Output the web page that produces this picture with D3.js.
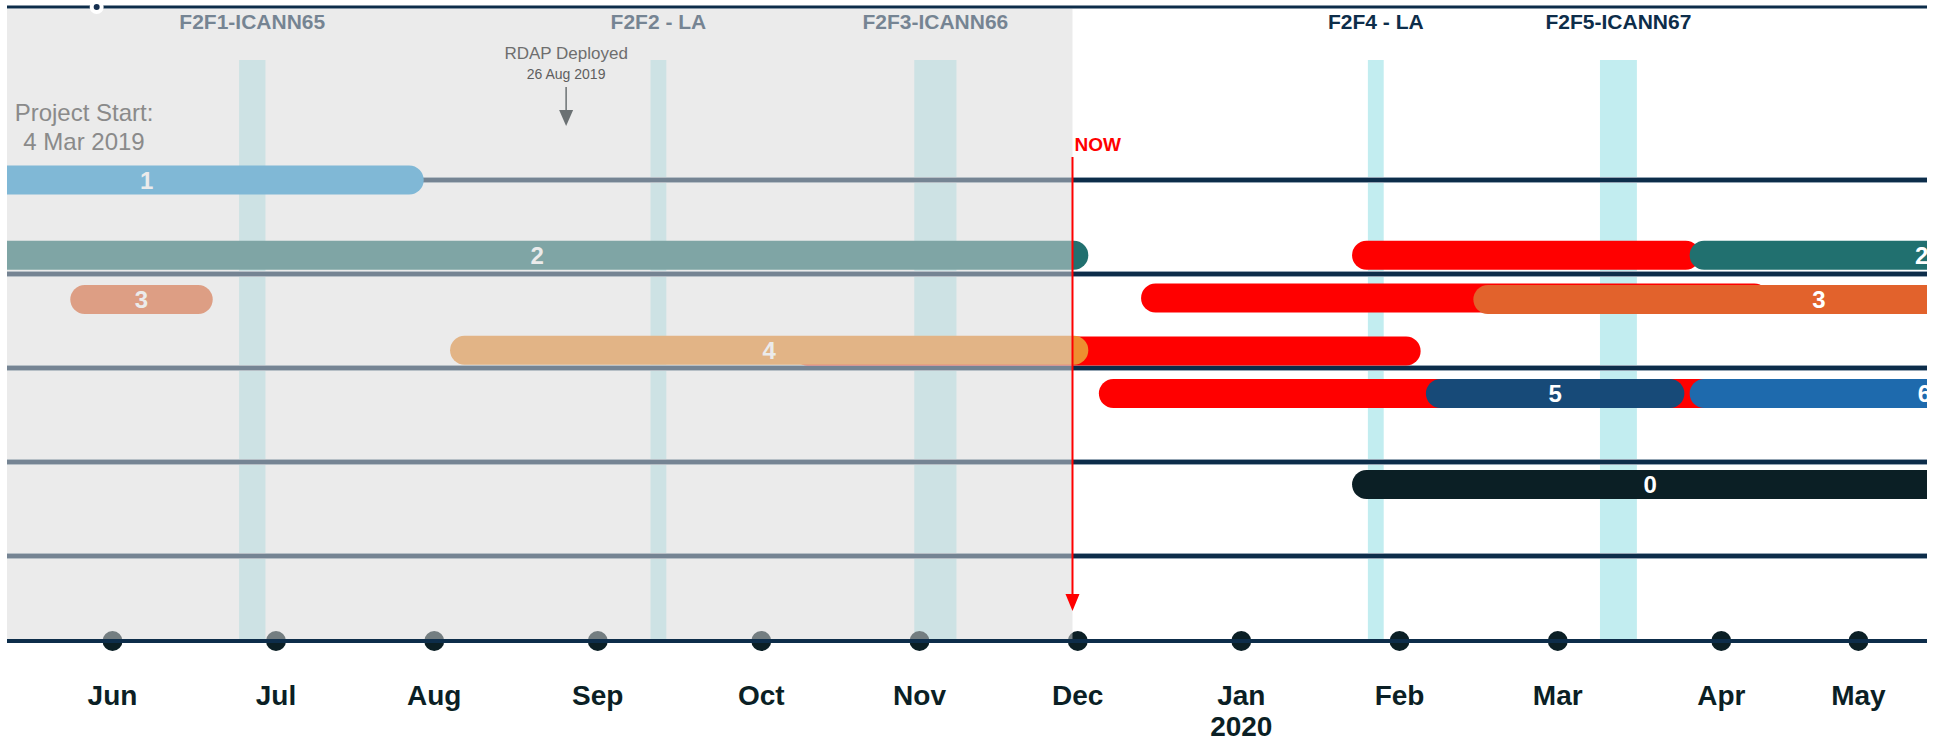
<!DOCTYPE html>
<html lang="en">
<head>
    <meta charset="UTF-8"/>
    <title>Roadmap timeline</title>
    <style>
        body { margin: 0; background: #ffffff; }
        text { font-family: "Liberation Sans", Arial, Helvetica, sans-serif; }
    </style>
</head>
<body>
<svg id="chart" width="1937" height="743"></svg>

<script src="https://d3js.org/d3.v7.min.js"></script>
<script type="text/javascript">

    // month ticks on the bottom axis (dates)
    var monthLabels = ["Jun", "Jul", "Aug", "Sep", "Oct", "Nov", "Dec", "Jan", "Feb", "Mar", "Apr", "May"];
    var monthDates = ["2019-06-01", "2019-07-02", "2019-08-01", "2019-09-01", "2019-10-02", "2019-11-01",
        "2019-12-01", "2020-01-01", "2020-01-31", "2020-03-01", "2020-04-01", "2020-04-27"];
    var yearLabels = ["", "", "", "", "", "", "", "2020", "", "", "", ""];

    // face to face meetings
    var eventNames = ["F2F1-ICANN65", "F2F2 - LA", "F2F3-ICANN66", "F2F4 - LA", "F2F5-ICANN67"];
    var eventStart = ["2019-06-25", "2019-09-11", "2019-10-31", "2020-01-25", "2020-03-09"];
    var eventEnd = ["2019-06-30", "2019-09-14", "2019-11-08", "2020-01-28", "2020-03-16"];

    // work items: id, start, end, lane position
    var taskIds = ["delay", "delay", "delay", "delay", "1", "2", "3", "4", "2", "3", "5", "6", "0"];
    var taskStart = ["2020-01-22", "2019-12-13", "2019-10-08", "2019-12-05", "2019-04-16", "2019-05-08",
        "2019-05-24", "2019-08-04", "2020-03-26", "2020-02-14", "2020-02-05", "2020-03-26", "2020-01-22"];
    var taskEnd = ["2020-03-28", "2020-04-10", "2020-02-04", "2020-04-02", "2019-07-30", "2019-12-03",
        "2019-06-20", "2019-12-03", "2020-06-22", "2020-06-24", "2020-03-25", "2020-06-23", "2020-05-14"];
    var taskRow = [0.8, 1.255, 1.82, 2.27, 0, 0.8, 1.27, 1.81, 0.8, 1.27, 2.27, 2.27, 3.24];

    var gridRows = [0, 1, 2, 3, 4];

    var nowDate = "2019-11-30";
    var startDotDate = "2019-05-29";
    var rdapDate = "2019-08-26";

    var parse = d3.timeParse("%Y-%m-%d");

    var tasks = taskIds.map(function (id, i) {
        return {id: id, start: parse(taskStart[i]), end: parse(taskEnd[i]), row: taskRow[i]};
    });

    let svg = d3.select("#chart"),
        left = 7,
        right = 1927,
        topY = 7,
        axisY = 641,
        colTop = 60,
        barH = 29;

    let x = d3.scaleTime()
        .domain([parse("2019-05-12"), parse("2020-05-10")])
        .range([left, right]);

    let y = d3.scaleLinear()
        .domain([0, 5])
        .range([180, 650]);

    let color = d3.scaleOrdinal()
        .domain(["delay", "1", "2", "3", "4", "5", "6", "0"])
        .range(["#ff0000", "#2396d4", "#21706f", "#e2622c", "#ed8e30", "#174a78", "#1e6aad", "#0b1f25"]);

    svg.append("clipPath")
        .attr("id", "plot")
        .append("rect")
        .attr("x", left)
        .attr("y", 0)
        .attr("width", right - left)
        .attr("height", 743);

    var g = svg.append("g").attr("clip-path", "url(#plot)");

    // meeting columns
    g.selectAll(".col")
        .data(eventNames)
        .enter().append("rect")
        .attr("class", "col")
        .attr("x", (d, i) => x(parse(eventStart[i])))
        .attr("width", (d, i) => x(parse(eventEnd[i])) - x(parse(eventStart[i])))
        .attr("y", colTop)
        .attr("height", axisY + 2 - colTop)
        .attr("fill", "#c2edf0");

    g.selectAll(".evlabel")
        .data(eventNames)
        .enter().append("text")
        .attr("class", "evlabel")
        .attr("x", (d, i) => (x(parse(eventStart[i])) + x(parse(eventEnd[i]))) / 2)
        .attr("y", 29)
        .attr("text-anchor", "middle")
        .style("font-weight", "bold")
        .style("font-size", "21px")
        .attr("fill", "#0d2d4a")
        .text(d => d);

    // lane lines
    g.selectAll(".gridedge")
        .data(gridRows)
        .enter().append("line")
        .attr("x1", left).attr("x2", right)
        .attr("y1", d => y(d)).attr("y2", d => y(d))
        .attr("stroke", "#93a4b3")
        .attr("stroke-width", 6);
    g.selectAll(".grid")
        .data(gridRows)
        .enter().append("line")
        .attr("x1", left).attr("x2", right)
        .attr("y1", d => y(d)).attr("y2", d => y(d))
        .attr("stroke", "#0d2d4a")
        .attr("stroke-width", 4);

    // bars
    g.selectAll(".bar")
        .data(tasks)
        .enter().append("rect")
        .attr("class", "bar")
        .attr("x", d => x(d.start))
        .attr("width", d => x(d.end) - x(d.start))
        .attr("y", d => y(d.row) - barH / 2)
        .attr("height", barH)
        .attr("rx", barH / 2)
        .attr("fill", d => color(d.id));

    g.selectAll(".barlabel")
        .data(tasks.filter(d => d.id !== "delay"))
        .enter().append("text")
        .attr("class", "barlabel")
        .attr("x", d => (x(d.start) + x(d.end)) / 2)
        .attr("y", d => y(d.row) + 8.5)
        .attr("text-anchor", "middle")
        .style("font-weight", "bold")
        .style("font-size", "24px")
        .attr("fill", "#ffffff")
        .text(d => d.id);

    // month dots
    g.selectAll(".dot")
        .data(monthDates)
        .enter().append("circle")
        .attr("cx", d => x(parse(d)))
        .attr("cy", axisY)
        .attr("r", 10)
        .attr("fill", "#0b1f25");

    // past period shading
    var nowX = x(parse(nowDate));
    svg.append("rect")
        .attr("x", left)
        .attr("y", 9)
        .attr("width", nowX - left)
        .attr("height", axisY + 2 - 9)
        .attr("fill", "#d8d8d8")
        .attr("fill-opacity", 0.513);

    // top and bottom lines
    svg.append("line")
        .attr("x1", left).attr("x2", right)
        .attr("y1", topY).attr("y2", topY)
        .attr("stroke", "#0d2d4a")
        .attr("stroke-width", 3);
    svg.append("circle")
        .attr("cx", x(parse(startDotDate)))
        .attr("cy", topY)
        .attr("r", 5)
        .attr("fill", "#163050")
        .attr("stroke", "#ffffff")
        .attr("stroke-width", 4);
    svg.append("line")
        .attr("x1", left).attr("x2", right)
        .attr("y1", axisY).attr("y2", axisY)
        .attr("stroke", "#0d2d4a")
        .attr("stroke-width", 4);

    // month labels
    svg.selectAll(".month")
        .data(monthLabels)
        .enter().append("text")
        .attr("x", (d, i) => x(parse(monthDates[i])))
        .attr("y", 705)
        .attr("text-anchor", "middle")
        .style("font-weight", "bold")
        .style("font-size", "28px")
        .attr("fill", "#0b1f25")
        .text(d => d);
    svg.selectAll(".year")
        .data(yearLabels)
        .enter().append("text")
        .attr("x", (d, i) => x(parse(monthDates[i])))
        .attr("y", 736)
        .attr("text-anchor", "middle")
        .style("font-weight", "bold")
        .style("font-size", "28px")
        .attr("fill", "#0b1f25")
        .text(d => d);

    // project start note
    var ps = svg.append("text")
        .attr("text-anchor", "middle")
        .style("font-size", "24px")
        .attr("fill", "#8a8a8a");
    ps.append("tspan").attr("x", 84).attr("y", 121).text("Project Start:");
    ps.append("tspan").attr("x", 84).attr("y", 150).text("4 Mar 2019");

    // RDAP marker
    var rx = x(parse(rdapDate));
    svg.append("text")
        .attr("x", rx).attr("y", 59)
        .attr("text-anchor", "middle")
        .style("font-size", "17px")
        .attr("fill", "#6e6e6e")
        .text("RDAP Deployed");
    svg.append("text")
        .attr("x", rx).attr("y", 79)
        .attr("text-anchor", "middle")
        .style("font-size", "14px")
        .attr("fill", "#5e5e5e")
        .text("26 Aug 2019");
    svg.append("line")
        .attr("x1", rx).attr("x2", rx)
        .attr("y1", 87).attr("y2", 112)
        .attr("stroke", "#6b7173")
        .attr("stroke-width", 1.5);
    svg.append("path")
        .attr("d", d3.line()([[rx - 7, 110], [rx + 7, 110], [rx, 126]]) + "Z")
        .attr("fill", "#6b7173");

    // NOW marker
    svg.append("text")
        .attr("x", nowX + 2).attr("y", 151)
        .style("font-weight", "bold")
        .style("font-size", "19px")
        .attr("fill", "#ff0000")
        .text("NOW");
    svg.append("line")
        .attr("x1", nowX).attr("x2", nowX)
        .attr("y1", 157).attr("y2", 597)
        .attr("stroke", "#ff0000")
        .attr("stroke-width", 2);
    svg.append("path")
        .attr("d", d3.line()([[nowX - 7, 594], [nowX + 7, 594], [nowX, 611]]) + "Z")
        .attr("fill", "#ff0000");

</script>
</body>
</html>
